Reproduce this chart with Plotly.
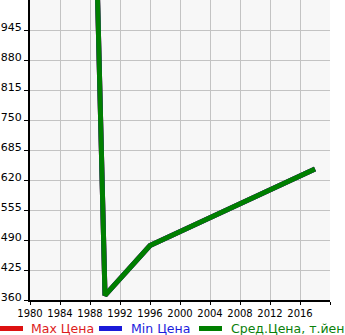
import plotly.graph_objects as go

years = [1989, 1990, 1996, 2018]
avg_price = [1020, 370, 478, 644]
max_price = [1020, 370, 478, 644]
min_price = [1020, 370, 478, 644]

x_ticks = list(range(1980, 2021, 4))
x_labels = [str(v) for v in x_ticks[:-1]] + [""]
y_ticks = [360, 425, 490, 555, 620, 685, 750, 815, 880, 945]

legend_names = ["Max Цена", "Min Цена", "Сред.Цена, т.йен"]
legend_colors = ["#dd1c1c", "#1c1cdd", "#0a800a"]
line_colors = ["#dd1111", "#1a1ad9", "#007f00"]

W, H = 345, 335
L, R, T, B = 30, 15, 0, 35
pw, ph = W - L - R, H - T - B

fig = go.Figure()
for name, ys, col in zip(legend_names, [max_price, min_price, avg_price], line_colors):
    fig.add_trace(go.Scatter(x=years, y=ys, mode="lines", name=name,
                             line=dict(color=col, width=5), showlegend=False,
                             hoverinfo="skip"))

def px_x(px):
    return (px - L) / pw

def px_y(py):
    return (H - B - py) / ph

shapes = []
annotations = []
leg_y = 328.5
for i, (name, col, lcol) in enumerate(zip(legend_names, legend_colors, line_colors)):
    x0 = [0, 99, 199][i]
    tx = [29, 129, 229][i]
    shapes.append(dict(type="line", xref="paper", yref="paper",
                       x0=px_x(x0), x1=px_x(x0 + 23), y0=px_y(leg_y), y1=px_y(leg_y),
                       line=dict(color=lcol, width=5)))
    annotations.append(dict(text=name, xref="paper", yref="paper",
                            x=px_x(tx), y=px_y(leg_y), xanchor="left", yanchor="middle",
                            showarrow=False, font=dict(color=col, size=12.5, family="DejaVu Sans")))

fig.update_layout(
    width=W, height=H,
    margin=dict(l=L, r=R, t=T, b=B),
    paper_bgcolor="white", plot_bgcolor="#f7f7f7",
    font=dict(family="DejaVu Sans", size=10, color="black"),
    shapes=shapes, annotations=annotations,
    xaxis=dict(range=[1980, 2020], tickmode="array", tickvals=x_ticks, ticktext=x_labels,
               showgrid=True, gridcolor="#c3c3c3", gridwidth=1,
               showline=True, linecolor="black", linewidth=2,
               ticks="outside", ticklen=3, tickcolor="black", tickwidth=1,
               zeroline=False, fixedrange=True),
    yaxis=dict(range=[360, 1010], tickmode="array", tickvals=y_ticks,
               showgrid=True, gridcolor="#c3c3c3", gridwidth=1,
               showline=True, linecolor="black", linewidth=2,
               ticks="outside", ticklen=4, tickcolor="black", tickwidth=1,
               tickfont=dict(size=11),
               ticklabelshift=-3, zeroline=False, fixedrange=True),
)

fig.write_html("out.html", config={"displayModeBar": False})
